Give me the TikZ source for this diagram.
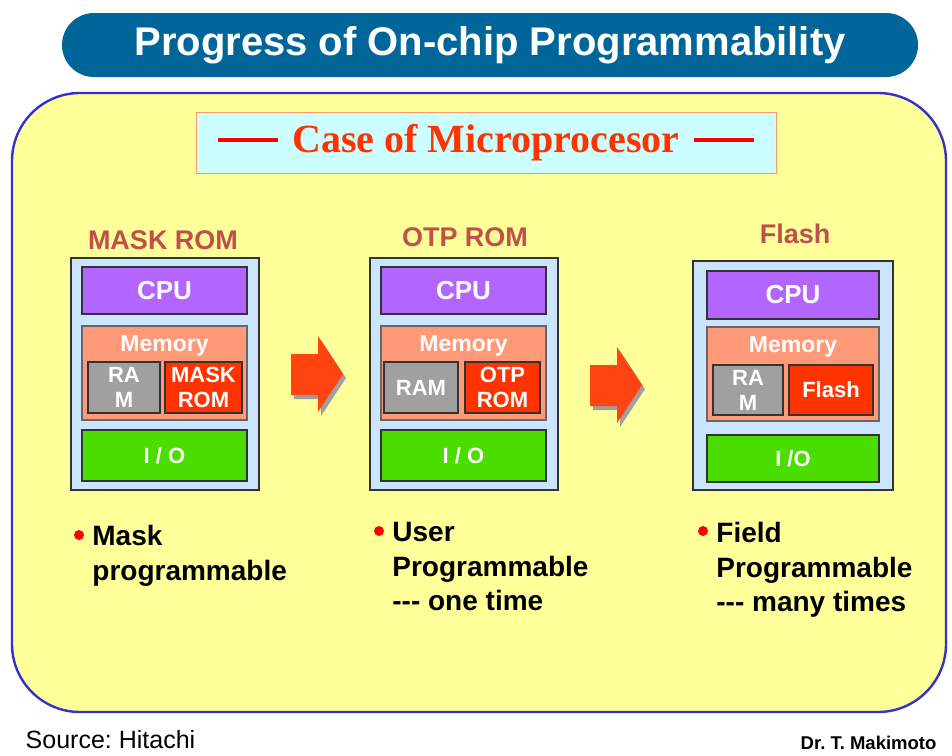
\documentclass[tikz,border=0pt]{standalone}
\usepackage{fontspec}
\setmainfont{Liberation Sans}
\newfontfamily\timesbold{Liberation Serif}[BoldFont={Liberation Serif Bold}]
\usetikzlibrary{positioning}
\frenchspacing
\newcommand{\threedash}{\mbox{-}\mbox{-}\mbox{-}}
\newcommand{\redbar}{\textcolor{red}{\rule[10.5pt]{60pt}{3.5pt}}}

\definecolor{bannerblue}{HTML}{006699}
\definecolor{panelyellow}{HTML}{FFFF99}
\definecolor{panelline}{HTML}{3333CC}
\definecolor{caseblue}{HTML}{CCFFFF}
\definecolor{caseline}{HTML}{FF9966}
\definecolor{casered}{HTML}{FF3300}
\definecolor{headred}{HTML}{C0504D}
\definecolor{chipblue}{HTML}{CCE5FF}
\definecolor{cpupurple}{HTML}{B366FF}
\definecolor{memsalmon}{HTML}{FF9977}
\definecolor{ramgray}{HTML}{A0A0A0}
\definecolor{romred}{HTML}{FF3300}
\definecolor{iogreen}{HTML}{4CDD00}
\definecolor{arrowred}{HTML}{FF4411}

\begin{document}
\begin{tikzpicture}[x=1pt, y=-1pt, thick,
    box/.style={draw=black!80, line width=1.2pt, inner sep=0pt, text=white, align=center,
      font=\bfseries\fontsize{22}{25}\selectfont},
    chip/.style={box, fill=chipblue},
    cpu/.style={box, fill=cpupurple, font=\bfseries\fontsize{26}{28}\selectfont},
    mem/.style={box, fill=memsalmon, draw=black!60},
    ram/.style={box, fill=ramgray},
    rom/.style={box, fill=romred},
    io/.style={box, fill=iogreen},
    head/.style={text=headred, font=\bfseries\fontsize{27}{30}\selectfont},
    memtext/.style={text=white, font=\bfseries\fontsize{23}{25}\selectfont},
    note/.style={anchor=north west, inner sep=0pt, align=left,
      font=\bfseries\fontsize{28}{34.5}\selectfont},
    dot/.style={circle, fill=red, inner sep=0pt, minimum size=10}]
  \useasboundingbox (0,0) rectangle (952,755);

  % title and frame
  \node[fill=bannerblue, rounded corners=32pt, minimum width=856, minimum height=64,
    text=white, font=\bfseries\fontsize{40}{42}\selectfont] (title) at (490,45)
    {Progress of On-chip Programmability};
  \node[draw=panelline, line width=2.4pt, fill=panelyellow, rounded corners=68pt,
    minimum width=934, minimum height=619] (panel) at (479,402.5) {};
  \node[draw=caseline, fill=caseblue, minimum width=580, minimum height=61,
    text=casered, font=\timesbold\bfseries\fontsize{40}{42}\selectfont] (case) at (486,142.5)
    {\redbar\hspace{14pt}Case of Microprocesor\hspace{14pt}\redbar};

  % MASK ROM
  \node[head] (head1) at (163,240) {MASK ROM};
  \node[chip, minimum width=188, minimum height=232] (chip1) at (165,374) {};
  \node[cpu, minimum width=165, minimum height=47] (cpu1) at (164.5,290.5) {CPU};
  \node[mem, minimum width=165, minimum height=94] (mem1) at (164.5,373) {};
  \node[memtext] (memt1) at (164.5,346) {Memory};
  \node[ram, minimum width=72, minimum height=51] (ram1) at (124,387.5) {RA\\M};
  \node[rom, minimum width=77, minimum height=51] (rom1) at (203.5,387.5) {MASK\\ROM};
  \node[io, minimum width=165, minimum height=51] (io1) at (164.5,455.5) {I / O};

  % OTP ROM
  \node[head] (head2) at (465,237) {OTP ROM};
  \node[chip, minimum width=188, minimum height=232] (chip2) at (464,374) {};
  \node[cpu, minimum width=165, minimum height=47] (cpu2) at (463.5,290.5) {CPU};
  \node[mem, minimum width=165, minimum height=94] (mem2) at (463.5,373) {};
  \node[memtext] (memt2) at (463.5,346) {Memory};
  \node[ram, minimum width=74, minimum height=51] (ram2) at (421,387.5) {RAM};
  \node[rom, minimum width=75, minimum height=51] (rom2) at (502.5,387.5) {OTP\\ROM};
  \node[io, minimum width=165, minimum height=51] (io2) at (463.5,455.5) {I / O};

  % Flash
  \node[head] (head3) at (795,234) {Flash};
  \node[chip, minimum width=200, minimum height=229] (chip3) at (793,375.5) {};
  \node[cpu, minimum width=172, minimum height=48] (cpu3) at (793,295) {CPU};
  \node[mem, minimum width=172, minimum height=94] (mem3) at (793,374) {};
  \node[memtext] (memt3) at (793,347) {Memory};
  \node[ram, minimum width=70, minimum height=50] (ram3) at (748,390) {RA\\M};
  \node[rom, minimum width=84, minimum height=50] (rom3) at (831,390) {Flash};
  \node[io, minimum width=172, minimum height=47] (io3) at (793,458.5) {I /O};

  % block arrows
  \foreach \ax/\ay in {291/336, 590/347} {
    \begin{scope}[shift={(\ax,\ay)}]
      \fill[gray!75] (3,22) -- (30,22) -- (30,4) -- (55,42) -- (30,80) -- (30,63) -- (3,63) -- cycle;
      \fill[arrowred] (0,18) -- (27,18) -- (27,0) -- (52,38) -- (27,76) -- (27,59) -- (0,59) -- cycle;
    \end{scope}
  }

  % notes
  \node[dot] (dot1) at (79,535) {};
  \node[note] (note1) at (92,525) {Mask\\programmable};
  \node[dot] (dot2) at (379,531) {};
  \node[note] (note2) at (392,522) {User\\Programmable\\\threedash{} one time};
  \node[dot] (dot3) at (703,531) {};
  \node[note] (note3) at (716,522) {Field\\Programmable\\\threedash{} many times};

  % footer
  \node[anchor=west, font=\fontsize{25}{27}\selectfont] (source) at (22,740) {Source: Hitachi};
  \node[anchor=west, font=\bfseries\fontsize{18.5}{20}\selectfont] (author) at (797,743) {Dr. T. Makimoto};
\end{tikzpicture}
\end{document}
